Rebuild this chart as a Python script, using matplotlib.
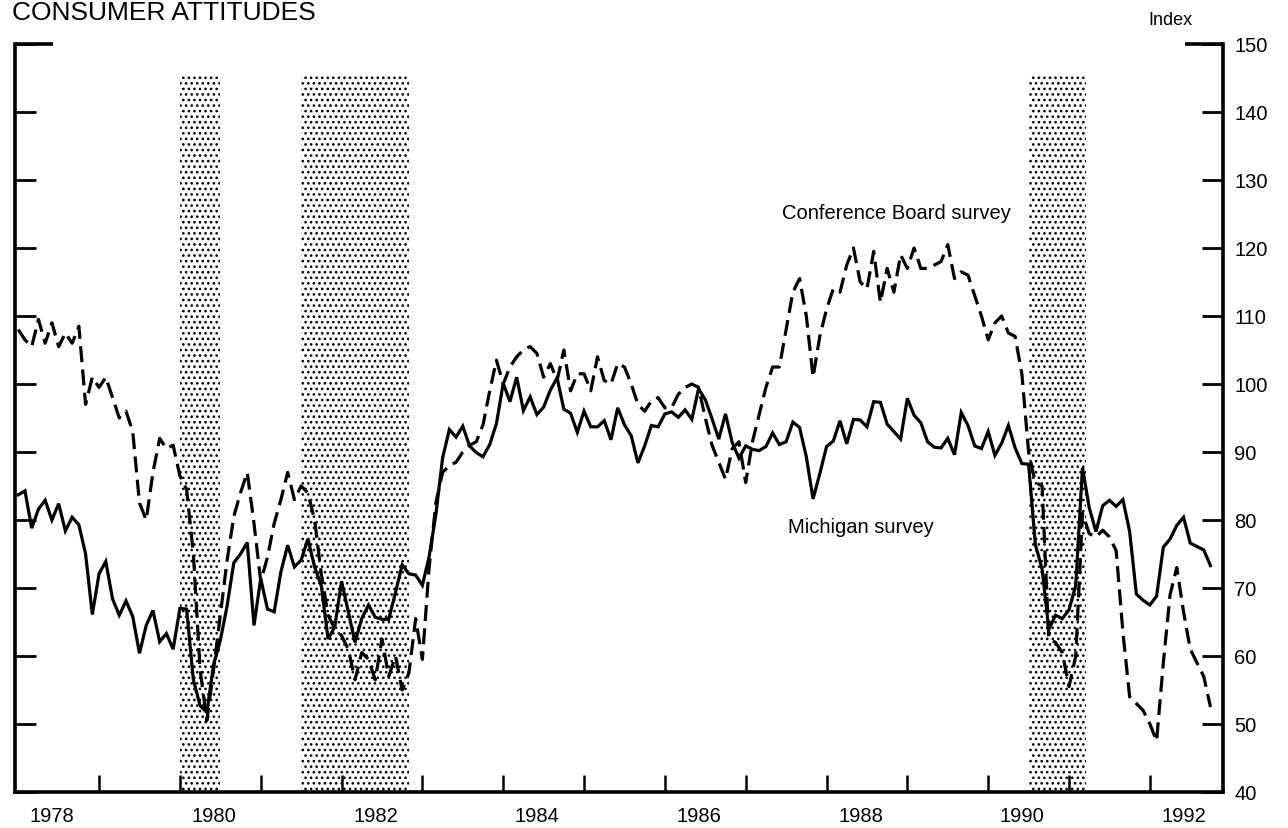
import matplotlib
matplotlib.use('Agg')
import matplotlib.pyplot as plt
import numpy as np
from matplotlib.lines import Line2D

plt.rcParams['font.family'] = ['Liberation Sans', 'DejaVu Sans']
plt.rcParams['hatch.linewidth'] = 1.1

start_year = 1978

# Michigan survey (monthly, Jan 1978 - Oct 1992)
michigan = [
    83.7, 84.3, 78.8, 81.6, 82.9, 80.0, 82.4, 78.4, 80.4, 79.3, 75.0, 66.1,
    72.1, 73.9, 68.4, 66.0, 68.1, 65.8, 60.4, 64.5, 66.7, 62.1, 63.3, 61.0,
    67.0, 66.9, 56.5, 52.7, 51.7, 58.7, 62.3, 67.3, 73.7, 75.0, 76.7, 64.5,
    71.4, 66.9, 66.5, 72.4, 76.3, 73.1, 74.1, 77.2, 73.1, 70.3, 62.5, 64.3,
    71.0, 66.5, 62.0, 65.5, 67.5, 65.7, 65.4, 65.4, 69.3, 73.4, 72.1, 71.9,
    70.4, 74.6, 80.8, 89.1, 93.3, 92.2, 93.8, 90.9, 89.9, 89.3, 91.1, 94.2,
    100.1, 97.4, 101.0, 96.1, 98.1, 95.5, 96.6, 99.1, 100.9, 96.3, 95.7, 92.9,
    96.0, 93.7, 93.7, 94.6, 91.8, 96.5, 94.0, 92.4, 88.4, 90.9, 93.9, 93.7,
    95.6, 95.9, 95.1, 96.2, 94.8, 99.3, 97.7, 94.9, 91.9, 95.6, 91.4, 89.1,
    90.9, 90.4, 90.2, 90.8, 92.8, 91.1, 91.5, 94.4, 93.6, 89.3, 83.1, 86.8,
    90.8, 91.6, 94.6, 91.2, 94.8, 94.7, 93.7, 97.4, 97.3, 94.1, 93.0, 91.9,
    97.9, 95.4, 94.3, 91.5, 90.7, 90.6, 92.0, 89.6, 95.8, 93.9, 90.9, 90.5,
    93.0, 89.5, 91.3, 93.9, 90.6, 88.3, 88.2, 76.4, 72.8, 63.9, 66.0, 65.5,
    66.8, 70.4, 87.7, 81.8, 78.3, 82.1, 82.9, 82.0, 83.0, 78.3, 69.1, 68.2,
    67.5, 68.8, 76.0, 77.2, 79.2, 80.4, 76.6, 76.1, 75.6, 73.3,
]

# Conference Board survey (monthly, Jan 1978 - Oct 1992)
conference = [
    108, 106.5, 105.5, 109.5, 106, 109, 105.5, 107.5, 106, 108.5, 97, 101,
    99.5, 101, 98, 95, 96, 93, 82.5, 80, 87, 92, 90.5, 91,
    86.5, 84.5, 75, 58, 50.5, 58, 66, 74, 80.5, 84, 87, 79.5,
    71, 74.5, 79.5, 83, 87, 83, 85, 84, 80, 72, 66, 64,
    63, 61, 56.5, 60.5, 59.5, 56.5, 62.5, 57, 60, 55, 57.5, 65.5,
    59.5, 73, 82.5, 87, 88, 88.5, 90, 91, 91.5, 94, 99, 103.5,
    100, 102.5, 104, 105, 105.5, 104.5, 101, 103, 100.5, 105, 99, 101.5,
    101.5, 99, 104, 100.5, 100, 103, 102.5, 100, 97, 96, 97.5, 98,
    96.5, 96.5, 98.5, 99.5, 100, 99.5, 95, 91, 88.5, 86, 90.5, 91.5,
    85.5, 91.5, 95.5, 99.5, 102.5, 102.5, 108, 113.5, 115.5, 110, 101, 107,
    111, 114, 113.5, 117.5, 120, 115, 114, 119.5, 112, 117, 113.5, 119,
    117, 120, 117, 117, 117.5, 118, 120.5, 115.5, 116.5, 116, 113, 110,
    106.5, 109, 110, 107.5, 107, 101.5, 90, 85.5, 85, 62.5, 62, 60.5,
    55.5, 60, 81, 78, 77.5, 78.5, 77.5, 75.5, 63.5, 54, 53, 52,
    50, 47.5, 59, 69, 73, 66.5, 61, 59, 57, 52.5,
]

recessions = [(1980.0, 1980.5), (1981.5, 1982.833), (1990.5, 1991.21)]
y_ticks = [40, 50, 60, 70, 80, 90, 100, 110, 120, 130, 140, 150]
year_ticks = list(range(1979, 1993))
year_labels = [1978, 1980, 1982, 1984, 1986, 1988, 1990, 1992]

months = start_year + np.arange(len(michigan)) / 12.0

fig = plt.figure(figsize=(12.88, 8.29), dpi=100)
ax = fig.add_axes([15 / 1288, 36 / 829, 1208 / 1288, 748 / 829])
ax.set_xlim(1977.96, 1992.905)
ax.set_ylim(40, 150)

shade_top = (145.6 - 40) / 110
for a, b in recessions:
    ax.axvspan(a, b, ymin=0, ymax=shade_top, facecolor='white',
               edgecolor='black', hatch='...', linewidth=0, zorder=1)

ax.plot(months, michigan, color='black', lw=2.3, zorder=3,
        solid_joinstyle='miter')
ax.plot(months[:len(conference)], conference, color='black', lw=2.3,
        dashes=(5, 2.3), zorder=3)

# frame
ax.spines['top'].set_visible(False)
for s in ['left', 'right', 'bottom']:
    ax.spines[s].set_linewidth(2.6)
    ax.spines[s].set_color('black')
seg = 38 / 1208
for x0, x1 in [(0, seg), (1 - seg, 1)]:
    ax.add_line(Line2D([x0, x1], [1, 1], transform=ax.transAxes,
                       color='black', lw=2.6, clip_on=False,
                       solid_capstyle='butt'))

# y axis
ax.set_yticks(y_ticks)
ax.set_yticklabels([str(v) for v in y_ticks])
ax.tick_params(axis='y', which='major', left=True, right=True,
               labelleft=False, labelright=True, direction='in',
               length=15, width=2.0, labelsize=14.5, pad=8)

# x axis
ax.set_xticks(year_ticks)
ax.set_xticklabels([])
ax.set_xticks([y + 0.42 for y in year_labels], minor=True)
ax.set_xticklabels([str(y) for y in year_labels], minor=True)
ax.tick_params(axis='x', which='major', direction='in', length=12,
               width=1.8, top=False, labelbottom=False)
ax.tick_params(axis='x', which='minor', length=0, labelsize=14.5, pad=10)

# texts
fig.text(12 / 1288, 1 - 20 / 829, 'CONSUMER ATTITUDES', fontsize=19,
         ha='left', va='baseline')
fig.text(1170 / 1288, 1 - 25 / 829, 'Index', fontsize=13,
         ha='center', va='baseline')
ax.text(1988.86, 124.4, 'Conference Board survey', fontsize=14.5,
        ha='center', va='baseline', zorder=4)
ax.text(1988.43, 78.2, 'Michigan survey', fontsize=14.5,
        ha='center', va='baseline', zorder=4)

fig.savefig('out.png', dpi=100)
